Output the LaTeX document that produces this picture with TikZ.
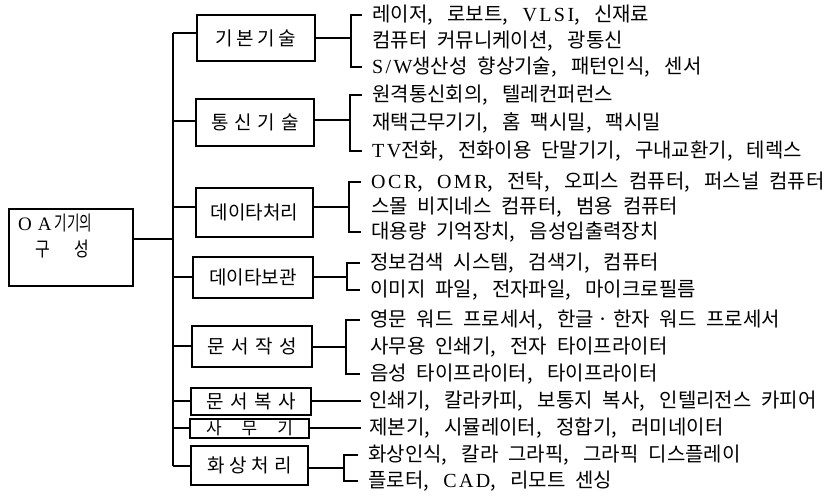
\documentclass[tikz,border=0pt]{standalone}
\usepackage{graphicx}
\usepackage{fontspec}
\setmainfont{Noto Sans CJK KR}[WordSpace=2.2]
\newfontfamily\lat{Liberation Serif}[LetterSpace=12]
\newcommand\cma{,\hspace{0.72em}}
\begin{document}
\begin{tikzpicture}[x=1pt,y=-1pt,
  box/.style={draw, line width=1.2pt, inner sep=0pt, font=\fontsize{19}{19}\selectfont},
  item/.style={anchor=west, inner sep=0pt, font=\fontsize{20}{20}\selectfont},
  ln/.style={line width=1.1pt}]
\useasboundingbox (0,0) rectangle (827,498);

% root
\node[box, minimum width=124pt, minimum height=77pt] (r) at (71,247.5) {};
\node[anchor=west, inner sep=0pt, font=\fontsize{20}{20}\selectfont] (rt1) at (18,223) {{\lat\fontsize{19}{19}\selectfont O\hspace{6pt}A}\hspace{3pt}\scalebox{0.68}[1]{기기의}};
\node[inner sep=0pt, font=\fontsize{20}{20}\selectfont] (rt2) at (62,249) {\scalebox{0.8}[1]{구}\hspace{24pt}\scalebox{0.8}[1]{성}};

% category boxes
\node[box, minimum width=118pt, minimum height=46pt] (b1) at (256,38) {기\hspace{3.5pt}본\hspace{3.5pt}기\hspace{3.5pt}술};
\node[box, minimum width=118pt, minimum height=47pt] (b2) at (255,122.5) {통\hspace{6pt}신\hspace{6pt}기\hspace{6pt}술};
\node[box, minimum width=117pt, minimum height=49pt] (b3) at (254.5,212.5) {데이타처리};
\node[box, minimum width=120pt, minimum height=41pt] (b4) at (253,277.5) {데이타보관};
\node[box, minimum width=120pt, minimum height=41pt] (b5) at (252,346.5) {문\hspace{6.5pt}서\hspace{6.5pt}작\hspace{6.5pt}성};
\node[box, minimum width=120pt, minimum height=27pt] (b6) at (251,401.5) {문\hspace{6.5pt}서\hspace{6.5pt}복\hspace{6.5pt}사};
\node[box, minimum width=119pt, minimum height=19pt, font=\fontsize{17}{17}\selectfont] (b7) at (249.5,428.5) {사\hspace{20pt}무\hspace{20pt}기};
\node[box, minimum width=117pt, minimum height=39pt] (b8) at (249.5,465.5) {화\hspace{5pt}상\hspace{5pt}처\hspace{5pt}리};

% spine
\coordinate (s0) at (173,239);
\coordinate (s1) at (173,33);
\coordinate (s2) at (173,121);
\coordinate (s3) at (173,207);
\coordinate (s4) at (173,277);
\coordinate (s5) at (173,346);
\coordinate (s6) at (173,401);
\coordinate (s7) at (173,428);
\coordinate (s8) at (173,466);
\draw[ln] (s1) -- (s8);
\draw[ln] (s0 -| r.east) -- (s0);
\foreach \i in {1,...,8} {\draw[ln] (s\i) -- (s\i -| b\i.west);}

% items
\node[item] (t1a) at (372,15) {레이저\cma 로보트\cma {\lat VLSI}\cma 신재료};
\node[item] (t1b) at (372,41) {컴퓨터 커뮤니케이션\cma 광통신};
\node[item] (t1c) at (372,67) {{\lat S/W}생산성 향상기술\cma 패턴인식\cma 센서};
\node[item] (t2a) at (372,95) {원격통신회의\cma 텔레컨퍼런스};
\node[item] (t2b) at (372,123) {재택근무기기\cma 홈 팩시밀\cma 팩시밀};
\node[item] (t2c) at (372,151) {{\lat TV}전화\cma 전화이용 단말기기\cma 구내교환기\cma 테렉스};
\node[item] (t3a) at (371,182) {{\lat OCR}\cma {\lat OMR}\cma 전탁\cma 오피스 컴퓨터\cma 퍼스널 컴퓨터};
\node[item] (t3b) at (371,207) {스몰 비지네스 컴퓨터\cma 범용 컴퓨터};
\node[item] (t3c) at (371,232) {대용량 기억장치\cma 음성입출력장치};
\node[item] (t4a) at (370,263) {정보검색 시스템\cma 검색기\cma 컴퓨터};
\node[item] (t4b) at (370,290) {이미지 파일\cma 전자파일\cma 마이크로필름};
\node[item] (t5a) at (370,320) {영문 워드 프로세서\cma 한글\hspace{4pt}·\hspace{4pt}한자 워드 프로세서};
\node[item] (t5b) at (370,347) {사무용 인쇄기\cma 전자 타이프라이터};
\node[item] (t5c) at (370,374) {음성 타이프라이터\cma 타이프라이터};
\node[item] (t6) at (369,401) {인쇄기\cma 칼라카피\cma 보통지 복사\cma 인텔리전스 카피어};
\node[item] (t7) at (369,428) {제본기\cma 시뮬레이터\cma 정합기\cma 러미네이터};
\node[item] (t8a) at (368,455) {화상인식\cma 칼라 그라픽\cma 그라픽 디스플레이};
\node[item] (t8b) at (368,481) {플로터\cma {\lat CAD}\cma 리모트 센싱};

% brackets
\coordinate (k1) at (351,38);
\coordinate (k2) at (350,120);
\coordinate (k3) at (349,207);
\coordinate (k4) at (347,277);
\coordinate (k5) at (346,347);
\coordinate (k8) at (344,468);
\draw[ln] (k1 -| b1.east) -- (k1);
\draw[ln] ([xshift=-10pt]t1a.west) -| (k1) |- ([xshift=-10pt]t1c.west);
\draw[ln] (k2 -| b2.east) -- (k2);
\draw[ln] ([xshift=-10pt]t2a.west) -| (k2) |- ([xshift=-10pt]t2c.west);
\draw[ln] (k3 -| b3.east) -- (k3);
\draw[ln] ([xshift=-10pt]t3a.west) -| (k3) |- ([xshift=-10pt]t3c.west);
\draw[ln] (k4 -| b4.east) -- (k4);
\draw[ln] ([xshift=-10pt]t4a.west) -| (k4) |- ([xshift=-10pt]t4b.west);
\draw[ln] (k5 -| b5.east) -- (k5);
\draw[ln] ([xshift=-10pt]t5a.west) -| (k5) |- ([xshift=-10pt]t5c.west);
\draw[ln] (t6.west -| b6.east) -- ([xshift=-8pt]t6.west);
\draw[ln] (t7.west -| b7.east) -- ([xshift=-8pt]t7.west);
\draw[ln] (k8 -| b8.east) -- (k8);
\draw[ln] ([xshift=-10pt]t8a.west) -| (k8) |- ([xshift=-10pt]t8b.west);
\end{tikzpicture}
\end{document}
